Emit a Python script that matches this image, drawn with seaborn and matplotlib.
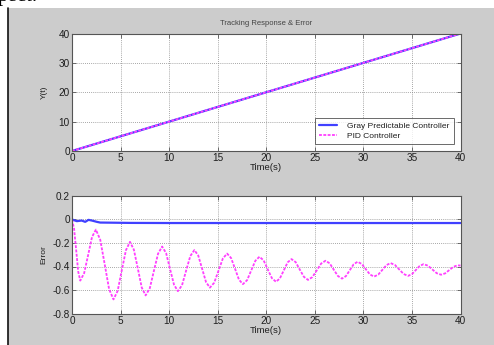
import numpy as np
import pandas as pd
import matplotlib
matplotlib.use("Agg")
import matplotlib.pyplot as plt
import seaborn as sns

# ---- data -------------------------------------------------------------
# tracking response (reference ramp followed by both controllers)
resp_t = [0, 40]
resp_gray = [0, 40]
resp_pid = [0, 40]

# tracking error of the gray predictable controller
err_gray_t = [0, 0.5, 1.0, 1.36, 1.7, 2.05, 2.56, 2.9, 4.0, 6.0, 10, 20, 30, 40]
err_gray_y = [0, -0.014, -0.009, -0.02, -0.003, -0.009, -0.02, -0.026, -0.027,
              -0.029, -0.03, -0.03, -0.03, -0.03]

# tracking error of the PID controller
err_pid_t = [0, 0.21, 0.43, 0.64, 0.85, 1.25, 1.66, 2.06, 2.46, 2.91, 3.37, 3.82,
             4.27, 4.70, 5.12, 5.55, 5.97, 6.37, 6.78, 7.18, 7.58, 8.01, 8.43,
             8.86, 9.28, 9.69, 10.09, 10.50, 10.9, 11.33, 11.75, 12.18, 12.6,
             13.0, 13.4, 13.8, 14.2, 14.64, 15.09, 15.53, 15.97, 16.38, 16.79,
             17.19, 17.6, 18.03, 18.45, 18.88, 19.3, 19.73, 20.15, 20.58, 21.0,
             21.4, 21.8, 22.2, 22.6, 23.03, 23.45, 23.88, 24.3, 24.75, 25.2,
             25.65, 26.1, 26.53, 26.95, 27.38, 27.8, 28.2, 28.6, 29.0, 29.4,
             29.83, 30.25, 30.68, 31.1, 31.53, 31.95, 32.38, 32.8, 33.25, 33.7,
             34.15, 34.6, 35.0, 35.4, 35.8, 36.2, 36.65, 37.1, 37.55, 38.0,
             38.43, 38.85, 39.28, 39.7, 40.0]
err_pid_y = [0, -0.076, -0.26, -0.444, -0.52, -0.457, -0.303, -0.149, -0.086,
             -0.173, -0.383, -0.593, -0.68, -0.608, -0.435, -0.262, -0.19,
             -0.257, -0.418, -0.579, -0.646, -0.585, -0.438, -0.291, -0.23,
             -0.286, -0.42, -0.554, -0.61, -0.559, -0.435, -0.311, -0.26,
             -0.307, -0.42, -0.533, -0.58, -0.538, -0.435, -0.332, -0.29,
             -0.328, -0.42, -0.512, -0.55, -0.516, -0.434, -0.351, -0.317,
             -0.348, -0.424, -0.499, -0.53, -0.502, -0.434, -0.365, -0.337,
             -0.363, -0.426, -0.488, -0.514, -0.490, -0.433, -0.375, -0.351,
             -0.373, -0.427, -0.481, -0.503, -0.482, -0.432, -0.381, -0.36,
             -0.378, -0.423, -0.468, -0.486, -0.469, -0.429, -0.388, -0.371,
             -0.387, -0.426, -0.464, -0.48, -0.465, -0.43, -0.395, -0.38,
             -0.393, -0.425, -0.457, -0.47, -0.458, -0.43, -0.402, -0.39, -0.392]

labels = ["Gray Predictable Controller", "PID Controller"]
x_ticks = [0, 5, 10, 15, 20, 25, 30, 35, 40]
resp_yticks = [0, 10, 20, 30, 40]
err_yticks = [-0.8, -0.6, -0.4, -0.2, 0, 0.2]
err_yticklabels = ["-0.8", "-0.6", "-0.4", "-0.2", "0", "0.2"]

# ---- styling ------------------------------------------------------------
sns.set_style("white")
plt.rcParams["font.family"] = ["Liberation Sans", "DejaVu Sans"]

BLUE = "#4040ff"
MAGENTA = "#ff40ff"
PANEL = "#cccccc"
TEXT = "#1e1e1e"

W, H = 494, 345
fig = plt.figure(figsize=(W / 100, H / 100), dpi=100)
fig.patch.set_facecolor("white")

# gray figure panel with dark left edge
fig.patches.append(plt.Rectangle((8 / W, 0), 1 - 8 / W, 1 - 8 / H,
                                 transform=fig.transFigure, facecolor=PANEL,
                                 edgecolor="none", zorder=-5))
fig.lines.append(plt.Line2D([7.5 / W, 7.5 / W], [0, 1 - 8 / H],
                            transform=fig.transFigure, color="#111111", lw=1.2,
                            zorder=-4))
fig.text(-2 / W, 1 - 1 / H, "pect.", family="Liberation Serif", fontsize=15,
         va="baseline", ha="left", color="black", zorder=-4)

ax1 = fig.add_axes([72 / W, 1 - 151 / H, 388.5 / W, 117.5 / H])
ax2 = fig.add_axes([72 / W, 1 - 313.5 / H, 388.5 / W, 117.5 / H])

df_resp = pd.DataFrame({"t": resp_t, "gray": resp_gray, "pid": resp_pid})
sns.lineplot(data=df_resp, x="t", y="gray", ax=ax1, color=BLUE, lw=1.6,
             label=labels[0], estimator=None, sort=False)
sns.lineplot(data=df_resp, x="t", y="pid", ax=ax1, color=MAGENTA, lw=1.3,
             linestyle=(0, (1.6, 0.8)), label=labels[1], estimator=None,
             sort=False)

sns.lineplot(x=err_gray_t, y=err_gray_y, ax=ax2, color=BLUE, lw=1.6,
             estimator=None, sort=False)
sns.lineplot(x=err_pid_t, y=err_pid_y, ax=ax2, color=MAGENTA, lw=1.3,
             linestyle=(0, (1.6, 0.8)), estimator=None, sort=False)

for ax in (ax1, ax2):
    ax.set_facecolor("white")
    ax.set_xlim(0, 40)
    ax.set_xticks(x_ticks)
    ax.grid(True, linestyle=(0, (1, 1.5)), color="#8a8a8a", lw=0.6)
    ax.set_axisbelow(True)
    for s in ax.spines.values():
        s.set_visible(True)
        s.set_color("#555555")
        s.set_linewidth(0.8)
    ax.tick_params(direction="in", length=3, width=0.6, color="#555555",
                   labelsize=7.2, labelcolor=TEXT, pad=1.5,
                   top=True, right=True, bottom=True, left=True)
    ax.set_xlabel("Time(s)", fontsize=6.8, color=TEXT, labelpad=0)

ax1.set_ylim(0, 40)
ax1.set_yticks(resp_yticks)
ax1.set_ylabel("Y(t)", fontsize=6, color=TEXT, labelpad=8)
ax1.set_title("Tracking Response & Error", fontsize=5.5, color="#444444", pad=6)

ax2.set_ylim(-0.8, 0.2)
ax2.set_yticks(err_yticks)
ax2.set_yticklabels(err_yticklabels)
ax2.set_ylabel("Error", fontsize=6, color=TEXT, labelpad=4)

leg = ax1.legend(loc="lower right", bbox_to_anchor=(0.993, 0.025), fontsize=6,
                 frameon=True, fancybox=False, edgecolor="#444444",
                 handlelength=2.2, handletextpad=1.2, borderpad=0.5,
                 labelspacing=0.2)
leg.get_frame().set_linewidth(0.7)
for txt in leg.get_texts():
    txt.set_color(TEXT)

fig.savefig("out.png", dpi=100, facecolor=fig.get_facecolor())
